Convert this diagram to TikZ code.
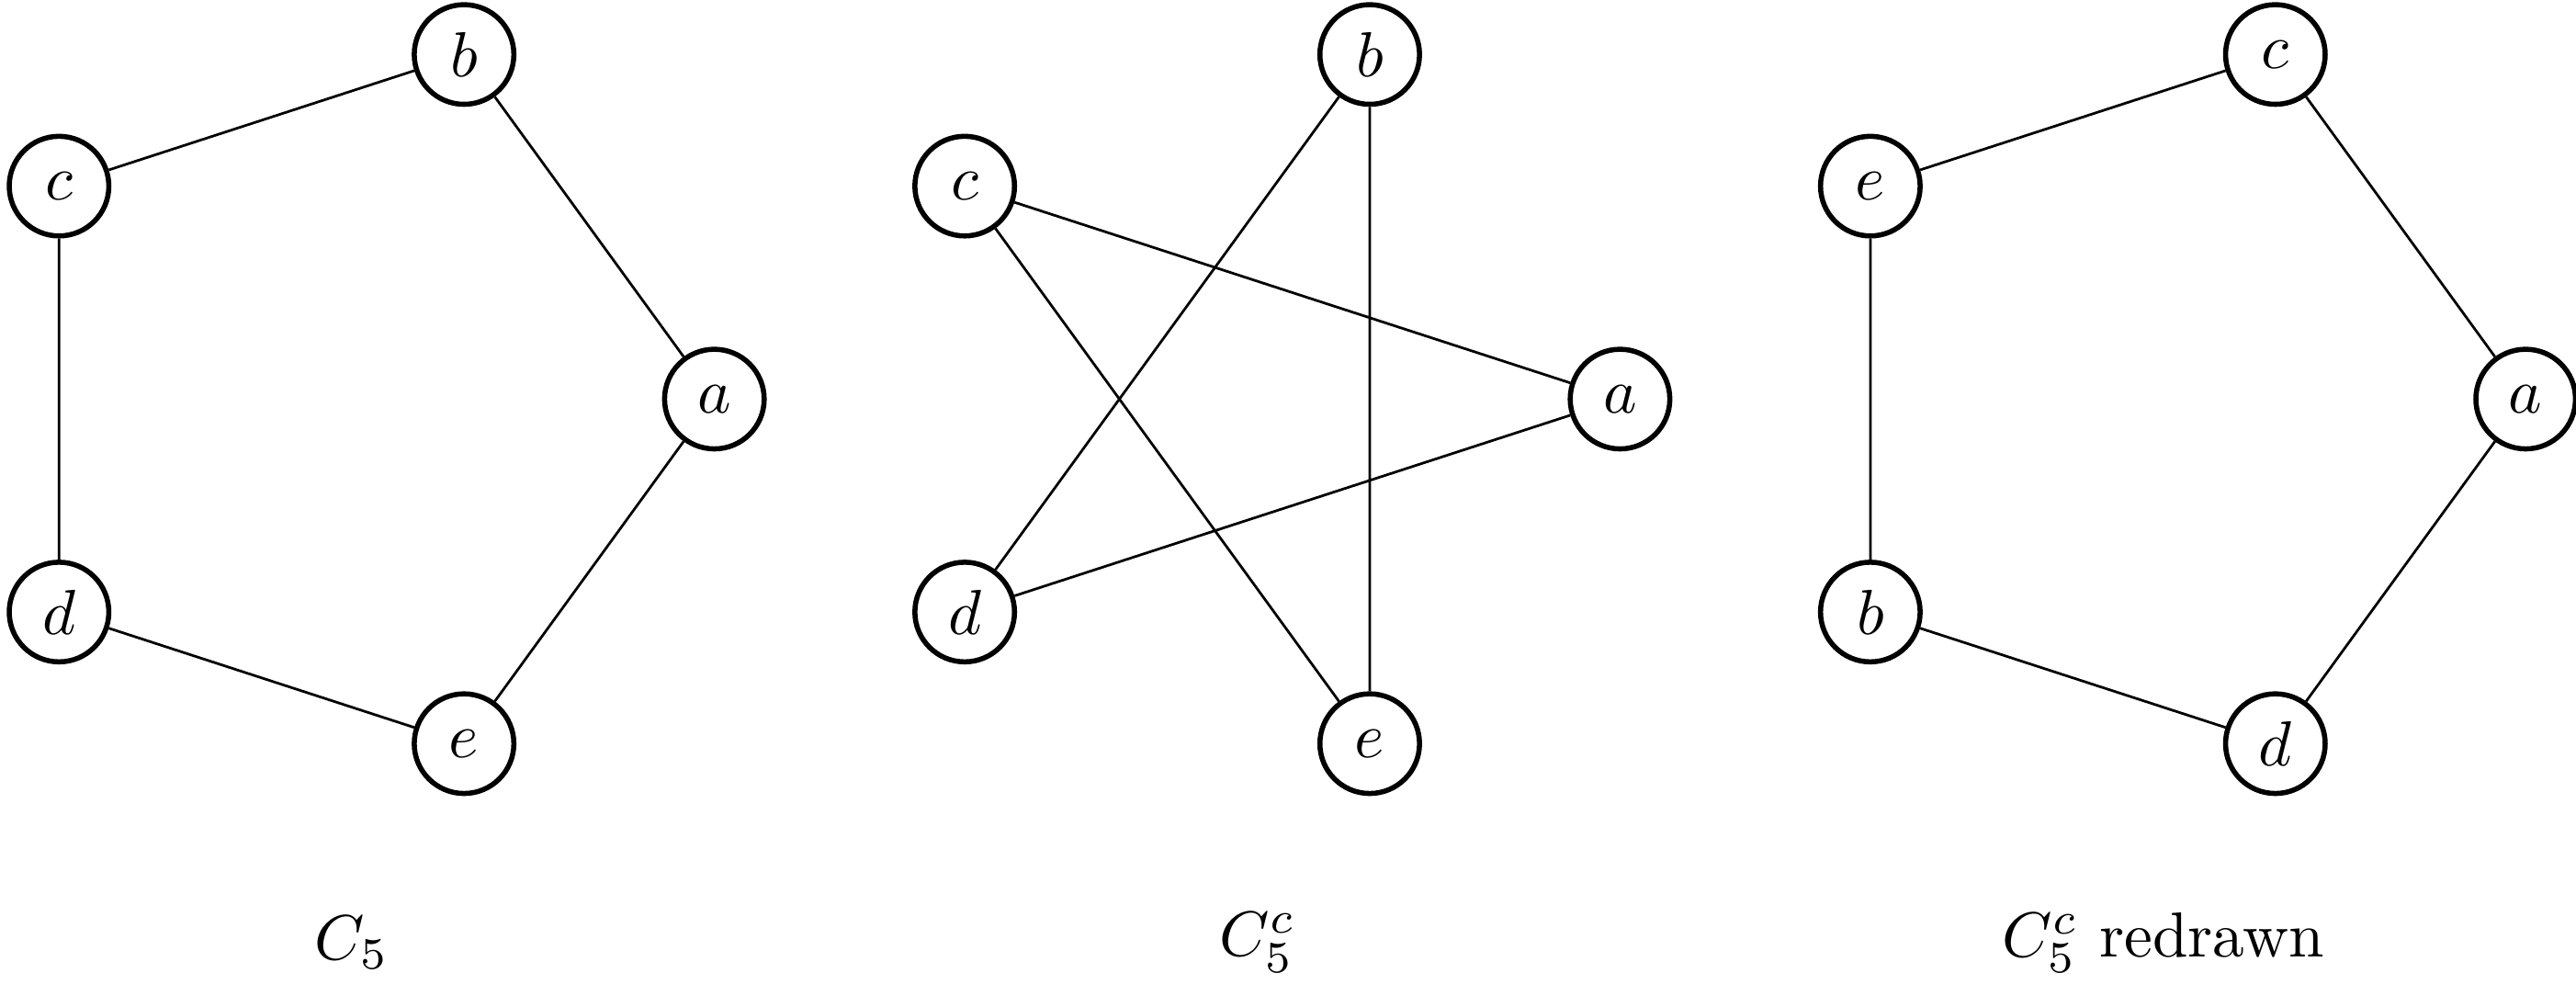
\documentclass[tikz,border=0pt]{standalone}
\begin{document}
\begin{tikzpicture}[
  vtx/.style={circle, draw, thick, minimum size=0.55cm, inner sep=0pt},
  edge/.style={draw}
]
\useasboundingbox (-1.944,-3.294) rectangle (12.278,2.203);
% Graph 1: C5
\begin{scope}
\node[vtx] (a1) at (0:2) {$a$};
\node[vtx] (b1) at (72:2) {$b$};
\node[vtx] (c1) at (144:2) {$c$};
\node[vtx] (d1) at (216:2) {$d$};
\node[vtx] (e1) at (288:2) {$e$};
\draw (a1) -- (b1) -- (c1) -- (d1) -- (e1) -- (a1);
\node (l1) at (0,-3) {$C_5$};
\end{scope}
% Graph 2: complement
\begin{scope}[xshift=5cm]
\node[vtx] (a2) at (0:2) {$a$};
\node[vtx] (b2) at (72:2) {$b$};
\node[vtx] (c2) at (144:2) {$c$};
\node[vtx] (d2) at (216:2) {$d$};
\node[vtx] (e2) at (288:2) {$e$};
\draw (a2) -- (c2) -- (e2) -- (b2) -- (d2) -- (a2);
\node (l2) at (0,-3) {$C_5^c$};
\end{scope}
% Graph 3: redrawn
\begin{scope}[xshift=10cm]
\node[vtx] (a3) at (0:2) {$a$};
\node[vtx] (c3) at (72:2) {$c$};
\node[vtx] (e3) at (144:2) {$e$};
\node[vtx] (b3) at (216:2) {$b$};
\node[vtx] (d3) at (288:2) {$d$};
\draw (a3) -- (c3) -- (e3) -- (b3) -- (d3) -- (a3);
\node (l3) at (0,-3) {$C_5^c$ redrawn};
\end{scope}
\end{tikzpicture}
\end{document}
